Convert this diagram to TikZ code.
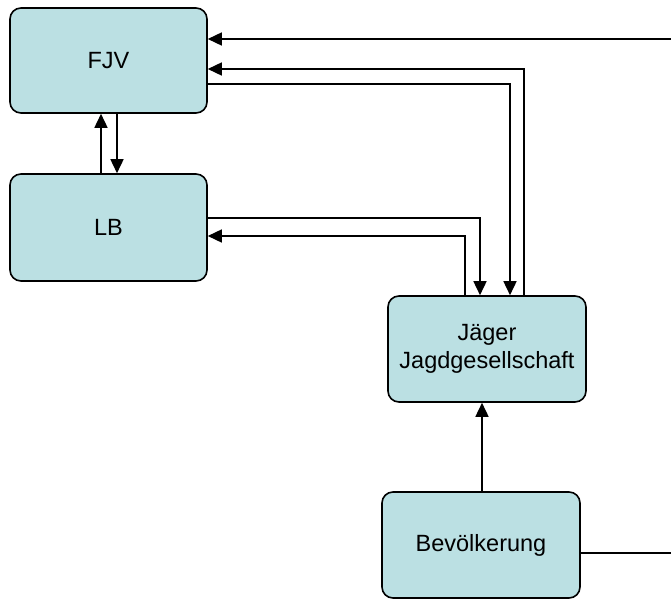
\documentclass[tikz,border=0pt]{standalone}
\usepackage{fontspec}
\setmainfont{Liberation Sans}
\usetikzlibrary{arrows.meta}
\definecolor{boxfill}{RGB}{187,224,227}
\begin{document}
\begin{tikzpicture}[x=1pt,y=-1pt,
  box/.style={draw=black, line width=1.6pt, fill=boxfill, rounded corners=11pt,
    inner sep=0pt, align=center, font=\fontsize{23.5}{28}\selectfont},
  conn/.style={line width=1.6pt},
  arr/.style={conn, -{Triangle[length=14pt,width=13pt]}}]
\useasboundingbox (0,0) rectangle (671,599);
\node[box, minimum width=197pt, minimum height=105pt] (fjv) at (108.5,60.5) {FJV};
\node[box, minimum width=197pt, minimum height=107pt] (lb) at (108.5,227.5) {LB};
\node[box, minimum width=198pt, minimum height=106pt] (jag) at (487,349) {Jäger\\Jagdgesellschaft};
\node[box, minimum width=198pt, minimum height=106pt] (bev) at (481,545) {Bevölkerung};
\coordinate (r1) at (671,39);
\coordinate (r2) at (671,553);
\coordinate (y69) at (0,69);
\coordinate (y84) at (0,84);
\coordinate (y218) at (0,218);
\coordinate (y236) at (0,236);
\coordinate (x101) at (101,0);
\coordinate (x117) at (117,0);
\coordinate (x465) at (465,0);
\coordinate (x480) at (480,0);
\coordinate (x482) at (482,0);
\coordinate (x510) at (510,0);
\coordinate (x524) at (524,0);
\draw[arr] (r1) -- (fjv.east |- r1);
\draw[arr] (jag.north -| x524) |- (fjv.east |- y69);
\draw[arr] (fjv.east |- y84) -| (jag.north -| x510);
\draw[arr] (lb.north -| x101) -- (fjv.south -| x101);
\draw[arr] (fjv.south -| x117) -- (lb.north -| x117);
\draw[arr] (lb.east |- y218) -| (jag.north -| x480);
\draw[arr] (jag.north -| x465) |- (lb.east |- y236);
\draw[arr] (bev.north -| x482) -- (jag.south -| x482);
\draw[conn] (bev.east |- r2) -- (r2);
\end{tikzpicture}
\end{document}
